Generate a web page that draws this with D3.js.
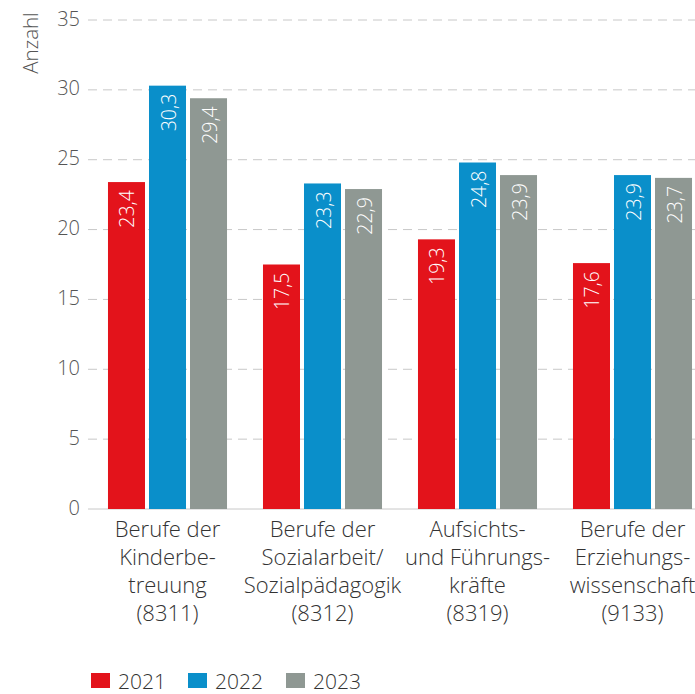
<!DOCTYPE html>
<html><head><meta charset="utf-8">
<script src="https://cdn.jsdelivr.net/npm/d3@7"></script>
<style>
html,body{margin:0;padding:0;background:#fff;overflow:hidden;}
text{font-family:"Open Sans","Liberation Sans",Arial,sans-serif;font-weight:300;}
</style></head>
<body>
<svg id="chart" width="695" height="694"></svg>
<script>
const categories = [
  ["Berufe der","Kinderbe-","treuung","(8311)"],
  ["Berufe der","Sozialarbeit/","Sozialpädagogik","(8312)"],
  ["Aufsichts-","und Führungs-","kräfte","(8319)"],
  ["Berufe der","Erziehungs-","wissenschaft","(9133)"]
];
const categoryKeys = ["8311","8312","8319","9133"];
const years = ["2021","2022","2023"];
const values2021 = [23.4, 17.5, 19.3, 17.6];
const values2022 = [30.3, 23.3, 24.8, 23.9];
const values2023 = [29.4, 22.9, 23.9, 23.7];
const yTicks = [0,5,10,15,20,25,30,35];
const colors = ["#e3131b","#0a8fca","#8f9893"];

const series = [values2021, values2022, values2023];
const svg = d3.select("#chart");

const y = d3.scaleLinear().domain([0,35]).range([509,20]);
const x = d3.scaleBand().domain(categoryKeys).range([90,710]).paddingInner(0.232).paddingOuter(0.116);
const xi = d3.scaleBand().domain(years).range([0,x.bandwidth()]).paddingInner(0.0976);

// gridlines
const grid = svg.append("g");
yTicks.forEach(t=>{
  grid.append("line").attr("x1",88).attr("x2",695).attr("y1",y(t)).attr("y2",y(t))
    .attr("stroke","#c8c8c8").attr("stroke-width",1)
    .attr("stroke-dasharray",t===0?null:"9,6");
});

// y axis labels
const yAxis = d3.axisLeft(y).tickValues(yTicks).tickSize(0).tickPadding(0).tickFormat(d=>d);
const ya = svg.append("g").attr("transform","translate(80,0)").call(yAxis);
ya.select(".domain").remove();
ya.selectAll("text").attr("fill","#555").attr("font-size",20).attr("font-family",null).attr("dy","0.25em");

svg.append("text").attr("transform","translate(38,43) rotate(-90)").attr("text-anchor","middle")
  .attr("fill","#555").attr("font-size",20.5).text("Anzahl");

// bars
const groups = svg.append("g").selectAll("g").data(categoryKeys).join("g")
  .attr("transform",d=>`translate(${x(d)},0)`);
groups.each(function(k,ci){
  const g = d3.select(this);
  years.forEach((yr,si)=>{
    const v = series[si][ci];
    g.append("rect").attr("x",xi(yr)).attr("width",xi.bandwidth())
      .attr("y",y(v)).attr("height",y(0)-y(v)).attr("fill",colors[si]);
    const cx = xi(yr)+xi.bandwidth()/2;
    g.append("text").attr("transform",`translate(${cx+8},${y(v)+8}) rotate(-90)`)
      .attr("text-anchor","end").attr("fill","#fff").attr("font-size",19.5)
      .text(String(v.toFixed(1)).replace(".",","));
  });
});

// category labels
const cl = svg.append("g");
categoryKeys.forEach((k,ci)=>{
  const cx = x(k)+x.bandwidth()/2;
  const t = cl.append("text").attr("text-anchor","middle").attr("fill","#333").attr("font-size",22);
  categories[ci].forEach((line,li)=>{
    t.append("tspan").attr("x",cx).attr("y",537+li*28).text(line);
  });
});

// legend
const lg = svg.append("g");
const legendX = [91,188,286];
years.forEach((yr,i)=>{
  lg.append("rect").attr("x",legendX[i]).attr("y",673).attr("width",19).attr("height",15).attr("fill",colors[i]);
  lg.append("text").attr("x",legendX[i]+27).attr("y",689).attr("fill","#333").attr("font-size",21).text(yr);
});
</script>
</body></html>
